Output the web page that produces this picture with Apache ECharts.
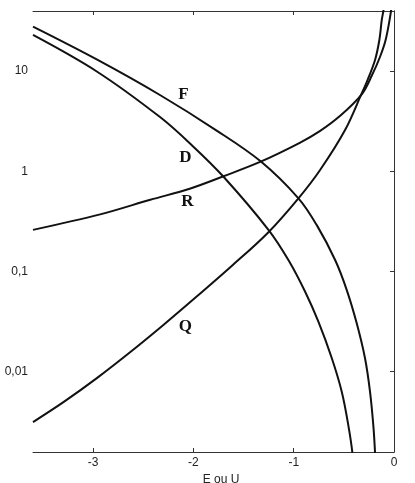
<!DOCTYPE html>
<html>
<head>
    <meta charset="utf-8">
    <title>F D R Q</title>
    <script src="https://cdn.jsdelivr.net/npm/echarts@6/dist/echarts.min.js"></script>
    <style>
        html, body { margin: 0; padding: 0; background: #fff; }
        #chart { width: 415px; height: 483px; }
    </style>
</head>
<body>
<div id="chart"></div>
<script type="text/javascript">
    // valeurs (E ou U en abscisse, echelle log en ordonnee)
    var E_F = [-3.6, -2.96, -2.33, -1.78, -1.33, -0.953, -0.77, -0.587, -0.471, -0.371, -0.289, -0.239, -0.206, -0.189, -0.183];
    var F = [27.7, 12.97, 5.73, 2.59, 1.256, 0.537, 0.29, 0.13, 0.0652, 0.0302, 0.0136, 0.0063, 0.0029, 0.00155, 0.001];

    var E_D = [-3.6, -2.96, -2.33, -2.011, -1.70, -1.25, -1.05, -0.886, -0.754, -0.62, -0.521, -0.455, -0.415, -0.405];
    var D = [22.9, 9.84, 3.45, 1.80, 0.881, 0.259, 0.1285, 0.0627, 0.0315, 0.0136, 0.0063, 0.0029, 0.00155, 0.001];

    var E_R = [-3.6, -2.93, -2.43, -2.03, -1.70, -1.33, -0.94, -0.74, -0.54, -0.32, -0.22, -0.14, -0.083, -0.033, -0.015];
    var R = [0.26, 0.371, 0.519, 0.673, 0.891, 1.245, 1.92, 2.51, 3.55, 5.89, 9.06, 13.8, 20.5, 37.8, 52.5];

    var E_Q = [-3.6, -3.293, -2.96, -2.629, -2.297, -1.965, -1.613, -1.252, -0.953, -0.737, -0.488, -0.322, -0.264, -0.189, -0.146, -0.122, -0.106, -0.09];
    var Q = [0.00314, 0.00499, 0.00867, 0.0157, 0.0294, 0.0565, 0.1146, 0.2466, 0.537, 1.03, 2.58, 5.98, 8.13, 12.9, 20.4, 32.3, 39.7, 51];

    // position des lettres (E, valeur)
    var labelAt = {F: [-2.10, 5.76], D: [-2.08, 1.38], R: [-2.06, 0.50], Q: [-2.08, 0.028]};

    var xTicks = [-3, -2, -1, 0];
    var yTicks = [0.01, 0.1, 1, 10];

    function zip(xs, ys) {
        var out = [];
        for (var i = 0; i < xs.length; i++) out.push([xs[i], ys[i]]);
        return out;
    }

    function curve(name, xs, ys) {
        return {
            name: name,
            type: 'line',
            data: zip(xs, ys),
            smooth: 0.35,
            showSymbol: false,
            silent: true,
            lineStyle: {color: '#111', width: 2},
            markPoint: {
                symbol: 'circle',
                symbolSize: 0,
                data: [{coord: labelAt[name], value: name}],
                label: {
                    show: true,
                    formatter: name,
                    color: '#111',
                    fontFamily: 'Liberation Serif',
                    fontWeight: 'bold',
                    fontSize: 17
                }
            }
        };
    }

    var axisLine = {show: true, lineStyle: {color: '#333', width: 1}};
    var font = {color: '#222', fontFamily: 'Liberation Sans', fontSize: 12};

    var myChart = echarts.init(document.getElementById('chart'), null, {renderer: 'canvas'});
    var option = {
        animation: false,
        backgroundColor: '#fff',
        grid: {left: 33, right: 21, top: 11, bottom: 31, containLabel: false, outerBoundsMode: 'none'},
        xAxis: [
            {
                type: 'value', min: -3.6, max: 0,
                position: 'bottom',
                axisLine: axisLine,
                splitLine: {show: false},
                axisTick: {show: true, inside: true, length: 4, customValues: xTicks, lineStyle: {color: '#333'}},
                axisLabel: Object.assign({customValues: xTicks, margin: 5, formatter: function (v) { return String(v); }}, font),
                name: 'E ou U',
                nameLocation: 'middle',
                nameGap: 17,
                nameTextStyle: {color: '#222', fontFamily: 'Liberation Sans', fontSize: 12, padding: [0, 0, 0, 15]}
            },
            {
                type: 'value', min: -3.6, max: 0,
                position: 'top',
                axisLine: axisLine,
                splitLine: {show: false},
                axisTick: {show: true, inside: true, length: 4, customValues: [-3, -2, -1], lineStyle: {color: '#333'}},
                axisLabel: {show: false}
            }
        ],
        yAxis: [
            {
                type: 'log', logBase: 10, min: 0.00158, max: 39.7,
                position: 'left',
                axisLine: axisLine,
                splitLine: {show: false},
                axisTick: {show: true, inside: false, length: 4, customValues: yTicks, lineStyle: {color: '#333'}},
                axisLabel: Object.assign({
                    customValues: yTicks, margin: 5,
                    formatter: function (v) { return String(v).replace('.', ','); }
                }, font)
            },
            {
                type: 'log', logBase: 10, min: 0.00158, max: 39.7,
                position: 'right',
                axisLine: axisLine,
                splitLine: {show: false},
                axisTick: {show: true, inside: true, length: 4, customValues: yTicks, lineStyle: {color: '#333'}},
                axisLabel: {show: false}
            }
        ],
        series: [
            curve('F', E_F, F),
            curve('D', E_D, D),
            curve('R', E_R, R),
            curve('Q', E_Q, Q)
        ]
    };
    myChart.setOption(option);
</script>
</body>
</html>
